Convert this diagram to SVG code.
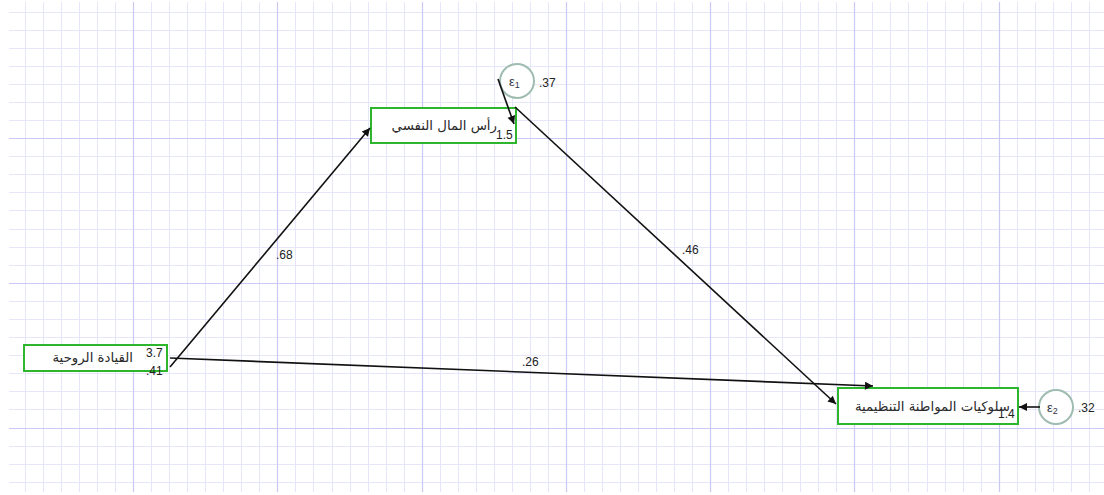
<svg xmlns="http://www.w3.org/2000/svg" width="1104" height="495" viewBox="0 0 1104 495">
<defs>
<style>
.minor{stroke:#e6e6fa;stroke-width:1;fill:none}
.major{stroke:#c9c9f3;stroke-width:1.2;fill:none}
.box{fill:#ffffff;stroke:#2db52d;stroke-width:2}
.err{fill:#ffffff;stroke:#9fbcb0;stroke-width:2}
.edge{stroke:#111111;stroke-width:1.6;fill:none;marker-end:url(#ah)}
.lbl{font-family:"Liberation Sans",Arial,sans-serif;font-size:12px;fill:#222222}
.eps{font-family:"Liberation Sans",Arial,sans-serif;font-size:13px;fill:#333344}
.ar{font-family:"DejaVu Sans","Noto Sans",sans-serif;font-size:13.3px;fill:#2a2a2a}
</style>
<marker id="ah" viewBox="0 0 10 10" refX="10" refY="5" markerWidth="10" markerHeight="8" markerUnits="userSpaceOnUse" orient="auto">
<path d="M0,0 L10,5 L0,10 z" fill="#111111"/>
</marker>
</defs>
<rect width="1104" height="495" fill="#ffffff"/>
<g id="grid">
<path class="minor" d="M25.5,2V492M43.5,2V492M61.5,2V492M79.5,2V492M97.5,2V492M115.5,2V492M151.5,2V492M169.5,2V492M187.5,2V492M205.5,2V492M223.5,2V492M241.5,2V492M259.5,2V492M295.5,2V492M313.5,2V492M332.5,2V492M350.5,2V492M368.5,2V492M386.5,2V492M404.5,2V492M440.5,2V492M458.5,2V492M476.5,2V492M494.5,2V492M512.5,2V492M530.5,2V492M548.5,2V492M584.5,2V492M602.5,2V492M620.5,2V492M638.5,2V492M656.5,2V492M674.5,2V492M692.5,2V492M728.5,2V492M746.5,2V492M764.5,2V492M782.5,2V492M800.5,2V492M818.5,2V492M836.5,2V492M872.5,2V492M890.5,2V492M908.5,2V492M927.5,2V492M945.5,2V492M963.5,2V492M981.5,2V492M1017.5,2V492M1035.5,2V492M1053.5,2V492M1071.5,2V492M1089.5,2V492"/>
<path class="minor" d="M9,12.5H1104M9,30.5H1104M9,48.5H1104M9,66.5H1104M9,84.5H1104M9,102.5H1104M9,120.5H1104M9,156.5H1104M9,174.5H1104M9,192.5H1104M9,210.5H1104M9,229.5H1104M9,247.5H1104M9,265.5H1104M9,301.5H1104M9,319.5H1104M9,337.5H1104M9,355.5H1104M9,373.5H1104M9,391.5H1104M9,409.5H1104M9,446.5H1104M9,464.5H1104M9,482.5H1104"/>
<path class="major" d="M133.5,2V492M277.5,2V492M422.5,2V492M566.5,2V492M710.5,2V492M854.5,2V492M999.5,2V492M9,138.5H1104M9,283.5H1104M9,428.5H1104"/>
</g>
<g id="node-psycap">
<rect class="box" x="371" y="108" width="145" height="35"/>
<text class="ar" x="497" y="130" text-anchor="end">رأس المال النفسي</text>
<text class="lbl" x="496" y="139">1.5</text>
</g>
<g id="node-leadership">
<rect class="box" x="24" y="345" width="143" height="26"/>
<text class="ar" x="133" y="362" text-anchor="end">القيادة الروحية</text>
<text class="lbl" x="146" y="357">3.7</text>
<text class="lbl" x="146" y="375">.41</text>
</g>
<g id="node-ocb">
<rect class="box" x="838" y="388" width="180" height="36"/>
<text class="ar" x="1010" y="411" text-anchor="end">سلوكيات المواطنة التنظيمية</text>
<text class="lbl" x="998" y="418">1.4</text>
</g>
<g id="node-e1">
<circle class="err" cx="517" cy="81" r="17"/>
<text class="eps" x="509" y="86">ε<tspan font-size="9" dy="2">1</tspan></text>
<text class="lbl" x="539" y="87">.37</text>
</g>
<g id="node-e2">
<circle class="err" cx="1056" cy="407" r="17"/>
<text class="eps" x="1047" y="412">ε<tspan font-size="9" dy="2">2</tspan></text>
<text class="lbl" x="1078" y="412">.32</text>
</g>
<g id="connectors">
<line class="edge" x1="170" y1="367" x2="370" y2="128"/>
<line class="edge" x1="170" y1="358" x2="873" y2="386"/>
<line class="edge" x1="515" y1="107" x2="836" y2="404"/>
<line class="edge" x1="498" y1="79" x2="514" y2="124"/>
<line class="edge" x1="1040" y1="407" x2="1019" y2="407"/>
<text class="lbl" x="276" y="259">.68</text>
<text class="lbl" x="682" y="254">.46</text>
<text class="lbl" x="522" y="366">.26</text>
</g>
</svg>
